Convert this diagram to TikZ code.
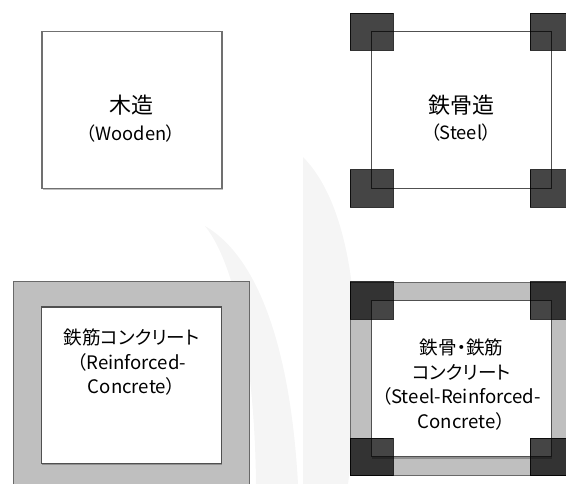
\documentclass[tikz,border=0pt]{standalone}
\usepackage{fontspec}
\setmainfont{Noto Sans CJK JP}[RawFeature={+palt}]
\usetikzlibrary{shadows}
\definecolor{boxline}{RGB}{112,112,112}
\definecolor{innerline}{RGB}{80,80,80}
\definecolor{concretegray}{RGB}{191,191,191}
\definecolor{concreteedge}{RGB}{105,105,105}
\definecolor{wmgray}{RGB}{245,245,245}
\begin{document}
\begin{tikzpicture}[x=1pt,y=-1pt,
  wm/.style={fill=wmgray,draw=none},
  boxshadow/.style={drop shadow={shadow xshift=0.5pt,shadow yshift=-1.6pt,opacity=0.25,fill=black}},
  plainbox/.style={draw=boxline,line width=1.1pt,fill=white,inner sep=0pt,outer sep=0pt,
     minimum width=180pt,minimum height=156.6pt,boxshadow},
  steelbox/.style={draw=innerline,line width=1.1pt,fill=white,inner sep=0pt,outer sep=0pt,
     minimum width=180pt,minimum height=156.6pt},
  concrete/.style={fill=concretegray,draw=concreteedge,line width=1pt,inner sep=0pt,outer sep=0pt},
  column/.style={fill=black,fill opacity=0.73,draw=black,draw opacity=0.8,line width=0.7pt,
     inner sep=0pt,outer sep=0pt,minimum width=43pt,minimum height=37.5pt},
  label/.style={align=center,text=black,inner sep=0pt,font=\fontsize{18.6}{24.5}\selectfont},
  biglabel/.style={align=center,text=black,inner sep=0pt,font=\fontsize{18.3}{26.5}\selectfont}
]
\useasboundingbox (0,0) rectangle (566,484);
\clip (0,0) rectangle (566,484);
% faint watermark
\path[wm] (205,226) .. controls (255,255) and (290,340) .. (298,484) -- (256,484)
   .. controls (255,380) and (240,270) .. (205,226) -- cycle;
\path[wm] (303,157) -- (303,484) -- (348,484) .. controls (362,380) and (365,220) .. (303,157) -- cycle;

% Wooden
\node[plainbox] (wood) at (132,110) {};
\node[biglabel] (woodtxt) at (131,118.5) {{\fontsize{22}{26.5}\selectfont 木造}\\（Wooden）};

% Steel
\node[steelbox] (steel) at (461.5,110) {};
\node[biglabel] (steeltxt) at (461,118) {{\fontsize{22}{26.5}\selectfont 鉄骨造}\\（Steel）};
\foreach \c in {north west,north east,south west,south east}
  \node[column] (steel-\c) at (steel.\c) {};

% Reinforced concrete
\node[concrete,minimum width=236pt,minimum height=207pt] (rcout) at (131.3,385.5) {};
\node[plainbox,draw=innerline] (rcin) at (131.7,385.3) {};
\node[label] (rctxt) at (131.7,362.5) {鉄筋コンクリート\\（Reinforced-\\Concrete）};

% Steel reinforced concrete
\node[concrete,minimum width=223pt,minimum height=192.3pt] (srcout) at (461.5,378.85) {};
\node[plainbox,draw=innerline] (srcin) at (461.5,378.6) {};
\node[label] (srctxt) at (461.5,384.5) {鉄骨・鉄筋\\コンクリート\\（Steel-Reinforced-\\Concrete）};
\foreach \c in {north west,north east,south west,south east}
  \node[column] (src-\c) at (srcin.\c) {};
\end{tikzpicture}
\end{document}
